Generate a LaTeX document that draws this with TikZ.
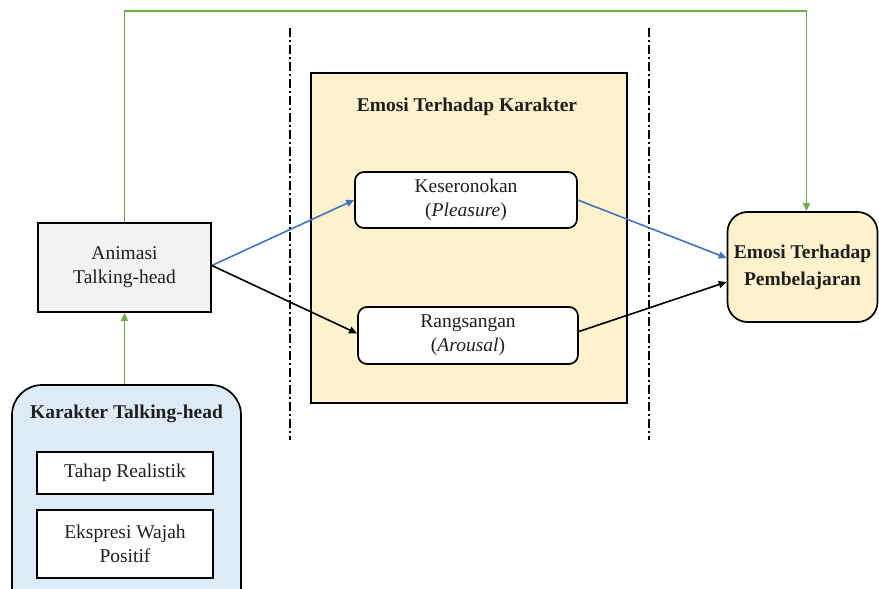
\documentclass[tikz,border=0pt]{standalone}
\usepackage{fontspec}
\setmainfont{Liberation Serif}
\usetikzlibrary{arrows.meta,calc}
\definecolor{grn}{HTML}{70AD47}
\definecolor{blu}{HTML}{4472C4}
\definecolor{yel}{HTML}{FFF2CC}
\definecolor{lblue}{HTML}{DEEBF7}
\definecolor{lgray}{HTML}{F2F2F2}
\begin{document}
\begin{tikzpicture}[x=1pt,y=-1pt,
  every node/.style={font=\fontsize{19.5}{24}\selectfont, align=center, inner sep=0pt, text=black!88},
  box/.style={draw, line width=1.7pt, minimum width=#1},
  rbox/.style={draw, line width=1.7pt, rounded corners=9pt},
  arr/.style={line width=1.6pt, -{Triangle[length=8pt,width=7pt]}},
  sep/.style={line width=1.4pt, dash pattern=on 9pt off 3pt on 2pt off 3pt},
  ttl/.style={font=\fontsize{19.5}{24}\selectfont\bfseries}]
\useasboundingbox (0,0) rectangle (879,589);
% containers
\node[box=316pt, minimum height=330pt, fill=yel] (big) at (469,238) {};
\node[ttl] (bigt) at (467,107) {Emosi Terhadap Karakter};
\node[draw, line width=1.7pt, rounded corners=30pt, fill=lblue, minimum width=229pt, minimum height=240pt] (kar) at (126.5,505) {};
\node[ttl] (kart) at (126.5,414) {Karakter Talking-head};
% separators
\coordinate (s1t) at (290,28); \coordinate (s1b) at (290,440);
\coordinate (s2t) at (649,28); \coordinate (s2b) at (649,440);
\draw[sep] (s1t) -- (s1b);
\draw[sep] (s2t) -- (s2b);
% boxes
\node[box=173pt, minimum height=89pt, fill=lgray] (ani) at (124.5,267.5) {Animasi\\Talking-head};
\node[box=176pt, minimum height=42pt, fill=white] (tah) at (125,473) {Tahap Realistik};
\node[box=176pt, minimum height=68pt, fill=white] (eks) at (125,544) {Ekspresi Wajah\\Positif};
\node[rbox, minimum width=222pt, minimum height=56pt, fill=white] (kes) at (466,200) {Keseronokan\\(\textit{Pleasure})};
\node[rbox, minimum width=220pt, minimum height=57pt, fill=white] (ran) at (468,335.5) {Rangsangan\\(\textit{Arousal})};
\node[draw, line width=1.7pt, rounded corners=20pt, fill=yel, minimum width=150pt, minimum height=110pt, font=\fontsize{19.5}{27}\selectfont\bfseries] (emo) at (802.5,267) {Emosi Terhadap\\Pembelajaran};
% connectors
\coordinate (top) at (500,11);
\draw[grn, arr] (ani.north) -- (ani.north |- top) -| ([xshift=4pt]emo.north);
\draw[grn, arr] (ani.south |- kar.north) -- (ani.south);
\draw[blu, arr] ([yshift=2pt]ani.east) -- (kes.west);
\draw[arr] ([yshift=2pt]ani.east) -- ([yshift=2pt]ran.west);
\draw[blu, arr] (kes.east) -- ([yshift=9pt]emo.west);
\draw[arr] ([yshift=4pt]ran.east) -- ([yshift=-15pt]emo.west);
\end{tikzpicture}
\end{document}
